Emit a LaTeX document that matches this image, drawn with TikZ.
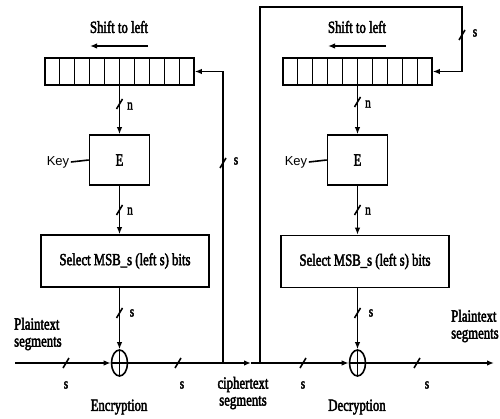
\documentclass[tikz,border=0pt]{standalone}
\usepackage{fontspec}
\setmainfont{Liberation Serif}[FakeStretch=0.75,FakeBold=2.5]
\newfontfamily\keyfont{Liberation Sans}
\usetikzlibrary{arrows.meta,shapes.geometric,calc}
\tikzset{
  wire/.style={line width=1.6pt},
  arr/.style={wire,-{Latex[length=7pt,width=5.5pt]}},
  regbox/.style={draw,line width=1.6pt,minimum width=149pt,minimum height=27pt,inner sep=0pt},
  ebox/.style={draw,line width=1.6pt,minimum width=60pt,minimum height=50pt,inner sep=0pt,font=\fontsize{17}{17}\selectfont},
  selbox/.style={draw,line width=1.6pt,minimum width=168pt,minimum height=52pt,inner sep=0pt,font=\fontsize{17}{17}\selectfont},
  xorn/.style={ellipse,draw,line width=1.6pt,minimum width=16pt,minimum height=26pt,inner sep=0pt},
  lbl/.style={font=\fontsize{17}{17}\selectfont,inner sep=0pt},
  sml/.style={font=\fontsize{15}{15}\selectfont,inner sep=0pt},
  keyl/.style={font=\keyfont\fontsize{13}{13}\selectfont,inner sep=1.5pt},
  cellline/.style={line width=1.3pt}
}
\newcommand\slashmark[1]{\draw[wire] ($(#1)+(-3,5)$) -- ($(#1)+(3,-5)$);}
\begin{document}
\begin{tikzpicture}[x=1pt,y=-1pt]
\useasboundingbox (0,0) rectangle (500,419);
% ---------------- Encryption ----------------
\node[lbl] (sh1) at (119,27) {Shift to left};
\coordinate (sa1) at (148,46);
\coordinate (sb1) at (90,46);
\draw[arr] (sa1) -- (sb1);
\node[regbox] (reg1) at (119.5,71.5) {};
\foreach \i in {1,...,9}
  \draw[cellline] ($(reg1.north west)!\i/10!(reg1.north east)$) -- ($(reg1.south west)!\i/10!(reg1.south east)$);
\node[ebox] (E1) at (119.5,160) {E};
\node[keyl] (k1) at (58,162) {Key};
\draw[wire] (k1.east) -- (E1.west);
\node[selbox] (S1) at (125,261) {Select MSB\_s (left s) bits};
\node[xorn] (X1) at (119.5,363) {};
\draw[wire] (X1.north) -- (X1.south) (X1.west) -- (X1.east);
\draw[arr] (E1.north |- reg1.south) -- (E1.north);
\draw[arr] (E1.south) -- (E1.south |- S1.north);
\draw[arr] (X1.north |- S1.south) -- (X1.north);
\coordinate (pin1) at (15,363);
\draw[arr] (pin1) -- (X1.west);
\coordinate (ct) at (251,363);
\draw[arr] (X1.east) -- (ct);
\coordinate (fb1) at (223,363);
\draw[arr] (fb1) |- (reg1.east);
% slashes left
\slashmark{119.5,104}
\node[sml] (n1) at (130,106) {n};
\slashmark{119.5,210}
\node[sml] (n2) at (130,211) {n};
\slashmark{119.5,313}
\node[sml] (s1) at (132,313) {s};
\slashmark{223,163}
\node[sml] (s2) at (236,161) {s};
\slashmark{66,363}
\node[sml] (s3) at (66,385) {s};
\slashmark{178,363}
\node[sml] (s4) at (182,385) {s};
\node[lbl,align=left,anchor=west] (pt1) at (14,334) {Plaintext\\segments};
\node[lbl] (enc) at (119,407) {Encryption};
\node[lbl,align=center] (cts) at (243,393) {ciphertext\\segments};
% ---------------- Decryption ----------------
\node[lbl] (sh2) at (357,27) {Shift to left};
\coordinate (sa2) at (386,46);
\coordinate (sb2) at (328,46);
\draw[arr] (sa2) -- (sb2);
\node[regbox] (reg2) at (357.5,71.5) {};
\foreach \i in {1,...,9}
  \draw[cellline] ($(reg2.north west)!\i/10!(reg2.north east)$) -- ($(reg2.south west)!\i/10!(reg2.south east)$);
\node[ebox] (E2) at (357.5,160) {E};
\node[keyl] (k2) at (296,162) {Key};
\draw[wire] (k2.east) -- (E2.west);
\node[selbox] (S2) at (365,261.5) {Select MSB\_s (left s) bits};
\node[xorn] (X2) at (357.5,363) {};
\draw[wire] (X2.north) -- (X2.south) (X2.west) -- (X2.east);
\draw[arr] (E2.north |- reg2.south) -- (E2.north);
\draw[arr] (E2.south) -- (E2.south |- S2.north);
\draw[arr] (X2.north |- S2.south) -- (X2.north);
\draw[arr] (ct) -- (X2.west);
\coordinate (pout) at (494,363);
\draw[arr] (X2.east) -- (pout);
\coordinate (fb2) at (260,363);
\coordinate (tr) at (462,7);
\draw[arr] (fb2) |- (tr) |- (reg2.east);
\slashmark{357.5,102}
\node[sml] (n3) at (368,104) {n};
\slashmark{357.5,210}
\node[sml] (n4) at (368,211) {n};
\slashmark{357.5,313}
\node[sml] (s5) at (371,313) {s};
\slashmark{462,35}
\node[sml] (s6) at (475,33) {s};
\slashmark{303,363}
\node[sml] (s7) at (303,385) {s};
\slashmark{417,363}
\node[sml] (s8) at (427,385) {s};
\node[lbl,align=left,anchor=west] (pt2) at (451,326) {Plaintext\\segments};
\node[lbl] (dec) at (357,407) {Decryption};
\end{tikzpicture}
\end{document}
